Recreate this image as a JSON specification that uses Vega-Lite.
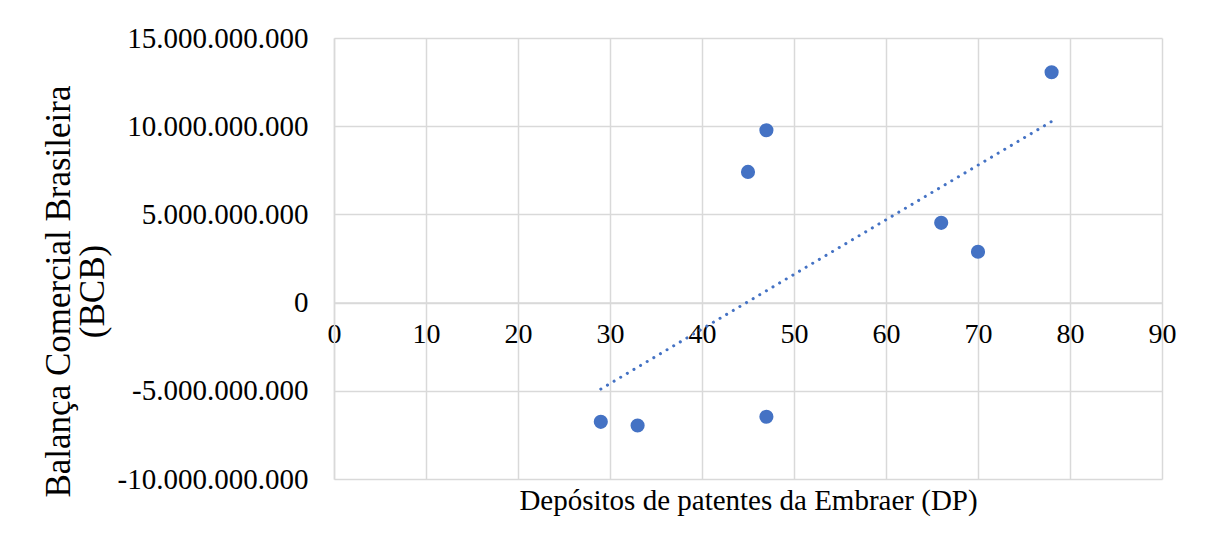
{
  "$schema": "https://vega.github.io/schema/vega-lite/v6.json",
  "width": 828,
  "height": 441,
  "autosize": {"type": "none"},
  "padding": {"left": 334, "top": 38, "right": 46, "bottom": 65},
  "background": "white",
  "config": {
    "locale": {"number": {"decimal": ",", "thousands": ".", "grouping": [3], "currency": ["", ""], "minus": "-"}},
    "view": {"stroke": null},
    "font": "Liberation Serif",
    "axis": {
      "gridColor": "#d9d9d9",
      "gridWidth": 1.5,
      "domainColor": "#d9d9d9",
      "domainWidth": 1.5,
      "ticks": false,
      "labelColor": "#000000",
      "titleColor": "#000000",
      "labelFont": "Liberation Serif",
      "titleFont": "Liberation Serif",
      "titleFontWeight": "normal",
      "labelOverlap": false,
      "labelLimit": 0
    }
  },
  "data": {
    "values": [
      {"DP": 29, "BCB": -6760000000},
      {"DP": 33, "BCB": -6970000000},
      {"DP": 45, "BCB": 7410000000},
      {"DP": 47, "BCB": 9770000000},
      {"DP": 47, "BCB": -6470000000},
      {"DP": 66, "BCB": 4520000000},
      {"DP": 70, "BCB": 2880000000},
      {"DP": 78, "BCB": 13060000000}
    ]
  },
  "layer": [
    {
      "mark": {"type": "circle", "size": 200, "color": "#4472C4", "opacity": 1},
      "encoding": {
        "x": {
          "field": "DP",
          "type": "quantitative",
          "scale": {"domain": [0, 90], "nice": false, "zero": false},
          "axis": {
            "values": [0, 10, 20, 30, 40, 50, 60, 70, 80, 90],
            "labelFlush": false,
            "labelFontSize": 28,
            "labelPadding": 18,
            "offset": -176.4,
            "title": "Depósitos de patentes da Embraer (DP)",
            "titleFontSize": 29,
            "titleBaseline": "alphabetic",
            "titleY": 207
          }
        },
        "y": {
          "field": "BCB",
          "type": "quantitative",
          "scale": {"domain": [-10000000000, 15000000000], "nice": false, "zero": false},
          "axis": {
            "values": [-10000000000, -5000000000, 0, 5000000000, 10000000000, 15000000000],
            "format": ",.0f",
            "labelFontSize": 29,
            "labelPadding": 26,
            "title": ["Balança Comercial Brasileira", "(BCB)"],
            "titleFontSize": 35,
            "titleLineHeight": 34,
            "titleBaseline": "alphabetic",
            "titleAngle": 270,
            "titleX": -265,
            "titleY": 253
          }
        }
      }
    },
    {
      "transform": [{"regression": "BCB", "on": "DP"}],
      "mark": {"type": "line", "color": "#4472C4", "strokeWidth": 3, "strokeDash": [0.1, 7.6], "strokeCap": "round"},
      "encoding": {
        "x": {"field": "DP", "type": "quantitative"},
        "y": {"field": "BCB", "type": "quantitative"}
      }
    }
  ]
}
